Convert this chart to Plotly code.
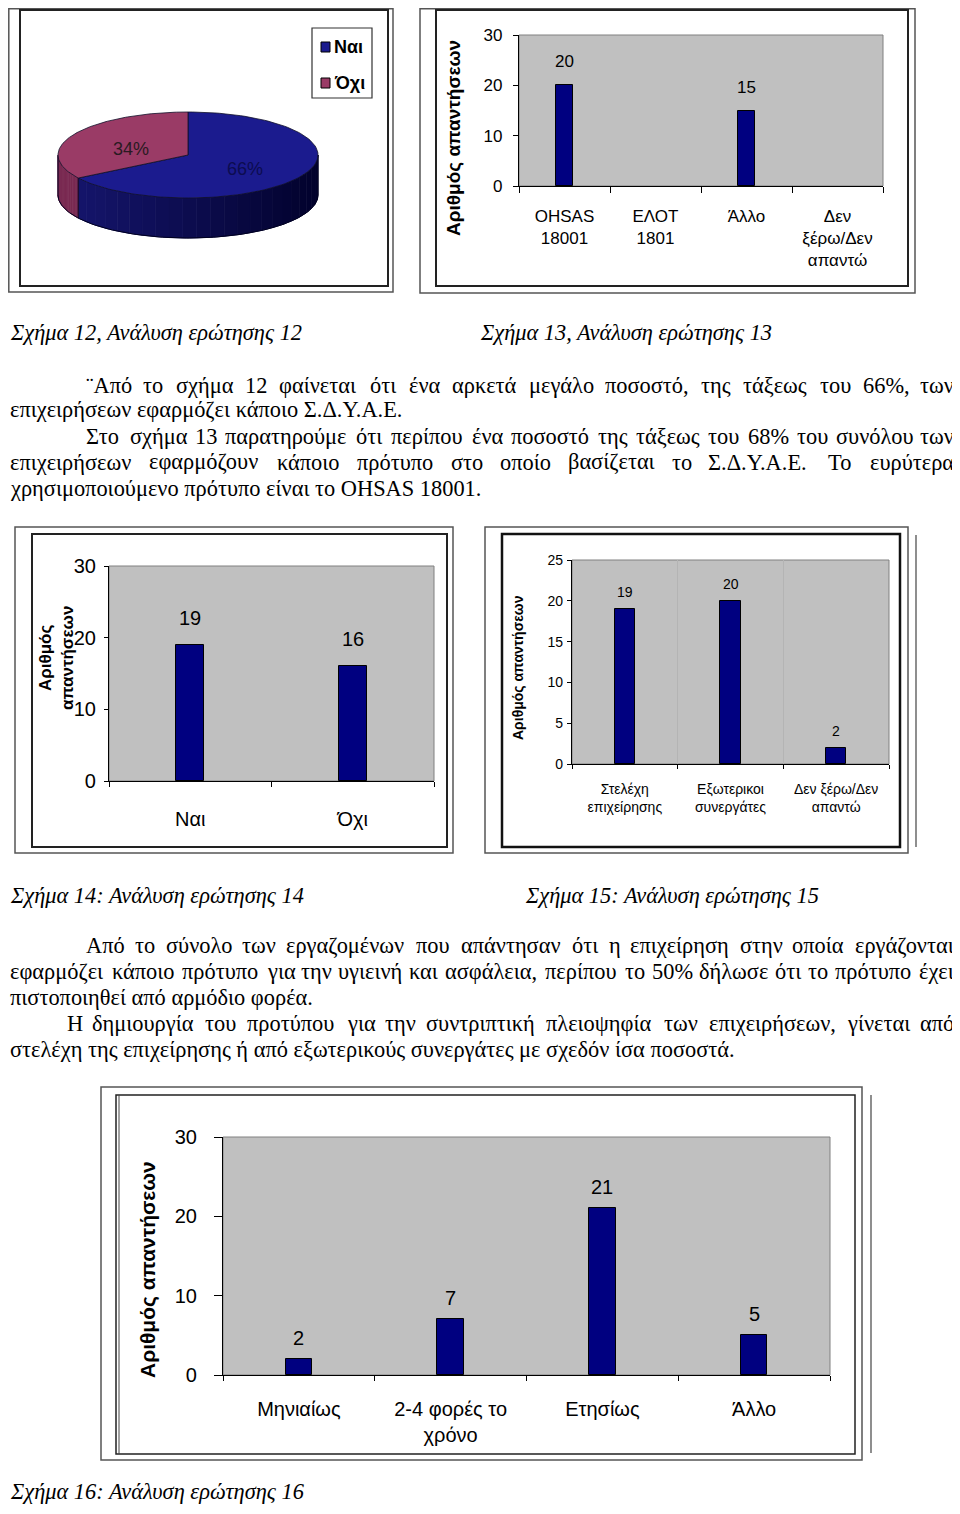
import unicodedata
import numpy as np
import plotly.graph_objects as go

# the page body has an 8px margin, so the figure is drawn 8px in from the window edge
OX, OY = 8, 8
W, H = 960 - OX, 1514 - 2 * OY

# ---- data ----
pie_labels = ['Ναι', 'Όχι']
pie_values = [66, 34]

q13_cats = ['OHSAS<br>18001', 'ΕΛΟΤ<br>1801', 'Άλλο', 'Δεν<br>ξέρω/Δεν<br>απαντώ']
q13_vals = [20, 0, 15, 0]

q14_cats = ['Ναι', 'Όχι']
q14_vals = [19, 16]

q15_cats = ['Στελέχη<br>επιχείρησης', 'Εξωτερικοι<br>συνεργάτες', 'Δεν ξέρω/Δεν<br>απαντώ']
q15_vals = [19, 20, 2]

q16_cats = ['Μηνιαίως', '2-4 φορές το<br>χρόνο', 'Ετησίως', 'Άλλο']
q16_vals = [2, 7, 21, 5]

ytitle = 'Αριθμός απαντήσεων'

captions = [
    ('Σχήμα 12, Ανάλυση ερώτησης 12', 9, 333),
    ('Σχήμα 13, Ανάλυση ερώτησης 13', 479, 333),
    ('Σχήμα 14: Ανάλυση ερώτησης 14', 9, 895),
    ('Σχήμα 15: Ανάλυση ερώτησης 15', 524, 895),
    ('Σχήμα 16: Ανάλυση ερώτησης 16', 9, 1491),
]

# (text, x start, x end or None if left aligned, y)
paragraphs = [
    ('¨Από το σχήμα 12 φαίνεται ότι ένα αρκετά μεγάλο ποσοστό, της τάξεως του 66%, των', 85, 955, 385),
    ('επιχειρήσεων εφαρμόζει κάποιο Σ.Δ.Υ.Α.Ε.', 9, None, 410),
    ('Στο σχήμα 13 παρατηρούμε ότι περίπου ένα ποσοστό της τάξεως του 68% του συνόλου των', 85, 955, 436),
    ('επιχειρήσεων εφαρμόζουν κάποιο πρότυπο στο οποίο βασίζεται το Σ.Δ.Υ.Α.Ε. Το ευρύτερα', 9, 955, 462),
    ('χρησιμοποιούμενο πρότυπο είναι το OHSAS 18001.', 9, None, 488),
    ('Από το σύνολο των εργαζομένων που απάντησαν ότι η επιχείρηση στην οποία εργάζονται', 85, 955, 946),
    ('εφαρμόζει κάποιο πρότυπο για την υγιεινή και ασφάλεια, περίπου το 50% δήλωσε ότι το πρότυπο έχει', 9, 955, 972),
    ('πιστοποιηθεί από αρμόδιο φορέα.', 9, None, 997),
    ('Η δημιουργία του προτύπου για την συντριπτική πλειοψηφία των επιχειρήσεων, γίνεται από', 66, 955, 1023),
    ('στελέχη της επιχείρησης ή από εξωτερικούς συνεργάτες με σχεδόν ίσα ποσοστά.', 9, None, 1049),
]

SERIF = 'Liberation Serif, Times New Roman, serif'
SANS = 'Liberation Sans, Arial, sans-serif'
NAVY = '#000080'


def fx(x):
    return (x - OX) / W


def fy(y):
    return 1 - (y - OY) / H


def cl(v, o):
    return max(v, o + 0.8)


fig = go.Figure()
annotations = []
shapes = []


def rect(x0, y0, x1, y1, color='#333', width=1.5, fill=None):
    x0, y0 = cl(x0, OX), cl(y0, OY)
    shapes.append(dict(type='rect', xref='paper', yref='paper',
                       x0=fx(x0), x1=fx(x1), y0=fy(y1), y1=fy(y0),
                       line=dict(color=color, width=width),
                       fillcolor=fill or 'rgba(0,0,0,0)', layer='below'))


def vline(x, y0, y1, color='#333', width=1.5):
    shapes.append(dict(type='line', xref='paper', yref='paper',
                       x0=fx(x), x1=fx(x), y0=fy(y1), y1=fy(y0),
                       line=dict(color=color, width=width)))


def label(text, x, y, size, family=SANS, anchor='left', color='black', angle=0, bold=False):
    if bold:
        text = '<b>' + text + '</b>'
    annotations.append(dict(text=text, x=fx(x), y=fy(y), xref='paper', yref='paper',
                            xanchor=anchor, yanchor='middle', showarrow=False,
                            textangle=angle, borderpad=0,
                            font=dict(size=size, family=family, color=color)))


# ---- frames round the charts ----
rect(5, 3, 393, 292, '#555', 1.5)
rect(20, 10, 388, 286, '#222', 2)
rect(420, 3, 915, 293, '#555', 1.5)
rect(436, 10, 908, 286, '#222', 2)
rect(15, 527, 453, 853, '#555', 1.5)
rect(32, 534, 447, 847, '#222', 2)
rect(485, 527, 908, 853, '#555', 1.5)
rect(502, 534, 900, 847, '#111', 2.5)
vline(916, 535, 847, '#444', 1.2)
rect(101, 1087, 862, 1460, '#555', 1.5)
rect(116, 1095, 855, 1454, '#222', 1.5)
vline(119, 1095, 1454, '#444', 1)
vline(871, 1095, 1453, '#444', 1.2)

# ---- 3D pie (Σχήμα 12) ----
cx, cy, rx, ry, depth = 188, 155, 130, 43, 40
top_cols = ['#1b1b8e', '#9a3b66']
side_cols = [('#16166f', '#02022c'), ('#7a2a52', '#6a2246')]


def ell(t, dy=0.0):
    return cx + rx * np.cos(t), cy - ry * np.sin(t) + dy


def mix(c1, c2, f):
    a = [int(c1[i:i + 2], 16) for i in (1, 3, 5)]
    b = [int(c2[i:i + 2], 16) for i in (1, 3, 5)]
    return '#%02x%02x%02x' % tuple(int(a[k] + (b[k] - a[k]) * f) for k in range(3))


total = sum(pie_values)
bounds = []
start = 90.0
for v in pie_values:
    end = start - 360.0 * v / total
    bounds.append((start, end))
    start = end

# visible side walls (front half, angles -180..0)
for i, (a0, a1) in enumerate(bounds):
    lo, hi = max(min(a0, a1), -180), min(max(a0, a1), 0)
    if lo >= hi:
        continue
    edges = np.linspace(lo, hi, 25)
    for k in range(len(edges) - 1):
        t = np.radians(np.linspace(edges[k], edges[k + 1], 6))
        xt, yt = ell(t)
        xb, yb = ell(t[::-1], depth)
        f = (np.cos(np.radians(edges[k])) + 1) / 2
        col = mix(side_cols[i][0], side_cols[i][1], f)
        fig.add_trace(go.Scatter(x=np.r_[xt, xb], y=np.r_[yt, yb], fill='toself',
                                 fillcolor=col, mode='lines', line=dict(color=col, width=1),
                                 hoverinfo='skip', xaxis='x', yaxis='y'))

# outline of the wall
t = np.radians(np.linspace(-180, 0, 120))
xb, yb = ell(t, depth)
fig.add_trace(go.Scatter(x=xb, y=yb, mode='lines', line=dict(color='#000020', width=1),
                         hoverinfo='skip', xaxis='x', yaxis='y'))
for a in [-180, 0] + [b[1] for b in bounds[:-1]]:
    if -180 <= a <= 0:
        xa, ya = ell(np.radians(a))
        fig.add_trace(go.Scatter(x=[xa, xa], y=[ya, ya + depth], mode='lines',
                                 line=dict(color='#000020', width=1), hoverinfo='skip',
                                 xaxis='x', yaxis='y'))

# top faces
for i, (a0, a1) in enumerate(bounds):
    t = np.radians(np.linspace(a0, a1, 120))
    xt, yt = ell(t)
    fig.add_trace(go.Scatter(x=np.r_[cx, xt, cx], y=np.r_[cy, yt, cy], fill='toself',
                             fillcolor=top_cols[i], mode='lines',
                             line=dict(color='#10102a', width=0.8),
                             hoverinfo='skip', xaxis='x', yaxis='y'))
    mid = np.radians((a0 + a1) / 2)
    lx, ly = ell(mid)
    lx = cx + (lx - cx) * 0.5
    ly = cy + (ly - cy) * 0.5 + 4
    annotations.append(dict(text='%d%%' % pie_values[i], x=lx, y=ly, xref='x', yref='y',
                            showarrow=False, font=dict(size=18, family=SANS,
                                                       color=['#0c0c50', '#2a1a22'][i])))

# legend box
rect(312, 28, 372, 98, '#333', 1.2, 'white')
for i, name in enumerate(pie_labels):
    yy = 47 + 36 * i
    shapes.append(dict(type='rect', xref='paper', yref='paper', x0=fx(321), x1=fx(330),
                       y0=fy(yy + 5), y1=fy(yy - 5), fillcolor=top_cols[i],
                       line=dict(color='black', width=1)))
    label(name, 333, yy, 18, SANS, bold=True)

fig.update_layout(
    xaxis=dict(domain=[fx(20), fx(388)], range=[20, 388], visible=False, fixedrange=True),
    yaxis=dict(domain=[fy(286), fy(10)], range=[286, 10], visible=False, fixedrange=True),
)


# ---- bar charts ----
def bar_chart(n, cats, vals, area, yrange, dtick, tfont, vfont, ysoff, xsoff,
              yticklen, xticklen, width, gap, grid=False):
    x0, y0, x1, y1 = area
    xa, ya = 'x%d' % n, 'y%d' % n
    fig.add_trace(go.Bar(x=cats, y=vals, width=width,
                         marker=dict(color=NAVY, line=dict(color='black',
                                     width=[1 if v else 0 for v in vals])),
                         xaxis=xa, yaxis=ya, hoverinfo='skip'))
    shapes.append(dict(type='rect', xref=xa + ' domain', yref=ya + ' domain',
                       x0=0, x1=1, y0=0, y1=1, fillcolor='#c0c0c0',
                       line=dict(color='#808080', width=1), layer='below'))
    for c, v in zip(cats, vals):
        if v:
            annotations.append(dict(text=str(v), x=c, y=v, xref=xa, yref=ya,
                                    yanchor='bottom', yshift=gap, showarrow=False,
                                    font=vfont))
    fig.update_layout({
        'xaxis%d' % n: dict(domain=[fx(x0), fx(x1)], anchor=ya, showline=True,
                            linecolor='black', linewidth=1.2, ticks='outside',
                            tickson='boundaries', ticklen=xticklen, tickcolor='black',
                            showgrid=grid, gridcolor='#b4b4b4', gridwidth=1,
                            tickfont=tfont, ticklabelstandoff=xsoff, fixedrange=True),
        'yaxis%d' % n: dict(domain=[fy(y1), fy(y0)], anchor=xa, range=yrange, dtick=dtick,
                            showline=True, linecolor='black', linewidth=1.2,
                            ticks='outside', ticklen=yticklen, tickcolor='black',
                            showgrid=False, zeroline=False, tickfont=tfont,
                            ticklabelstandoff=ysoff, fixedrange=True),
    })


f13 = dict(size=17, family=SANS, color='black')
bar_chart(2, q13_cats, q13_vals, (519, 35, 883, 186), [0, 30], 10, f13, f13,
          7, 14, 5, 6, 0.18, 12)
label(ytitle, 453, 138, 19, SANS, anchor='center', angle=-90, bold=True)

f14 = dict(size=20, family=SANS, color='black')
bar_chart(3, q14_cats, q14_vals, (109, 566, 434, 781), [0, 30], 10, f14, f14,
          4, 20, 4, 5, 0.17, 14)
label('Αριθμός<br>απαντήσεων', 56, 658, 17, SANS, anchor='center', angle=-90, bold=True)

f15 = dict(size=14, family=SANS, color='black')
bar_chart(4, q15_cats, q15_vals, (572, 560, 889, 764), [0, 25], 5, f15, f15,
          1, 12, 4, 4, 0.19, 7, grid=True)
label(ytitle, 518, 668, 14, SANS, anchor='center', angle=-90, bold=True)

f16 = dict(size=20, family=SANS, color='black')
bar_chart(5, q16_cats, q16_vals, (223, 1137, 830, 1375), [0, 30], 10, f16, f16,
          13, 16, 8, 5, 0.175, 8)
label(ytitle, 148, 1270, 21, SANS, anchor='center', angle=-90, bold=True)

# ---- captions and body text ----
BODY = 22.4
for text, x, y in captions:
    label('<i>' + text + '</i>', x, y, BODY, SERIF)

EM = {'α': .53, 'β': .5, 'γ': .44, 'δ': .5, 'ε': .42, 'ζ': .42, 'η': .5, 'θ': .5,
      'ι': .28, 'κ': .5, 'λ': .47, 'μ': .55, 'ν': .45, 'ξ': .42, 'ο': .5, 'π': .54,
      'ρ': .5, 'σ': .53, 'ς': .42, 'τ': .43, 'υ': .5, 'φ': .63, 'χ': .47, 'ψ': .66,
      'ω': .67, '.': .25, ',': .25, ':': .28, '%': .83, '¨': .33, '-': .33, '/': .28}


def est_width(word, size):
    w = 0.0
    for ch in word:
        base = unicodedata.normalize('NFD', ch)[0]
        if base in EM:
            w += EM[base]
        elif base.isdigit():
            w += 0.5
        elif base.isupper():
            w += 0.68
        else:
            w += 0.5
    return w * size


for text, xs, xe, y in paragraphs:
    if xe is None:
        label(text, xs, y, BODY, SERIF)
        continue
    words = text.split()
    widths = [est_width(w, BODY) for w in words]
    gap = (xe - xs - sum(widths)) / (len(words) - 1)
    x = xs
    for i, w in enumerate(words):
        if i == len(words) - 1:
            label(w, xe, y, BODY, SERIF, anchor='right')
        else:
            label(w, x, y, BODY, SERIF)
        x += widths[i] + gap

fig.update_layout(width=W, height=H,
                  margin=dict(l=0, r=0, t=0, b=0, pad=0, autoexpand=False),
                  paper_bgcolor='white', plot_bgcolor='rgba(0,0,0,0)',
                  showlegend=False, bargap=0, annotations=annotations, shapes=shapes)

fig.write_html('out.html')
